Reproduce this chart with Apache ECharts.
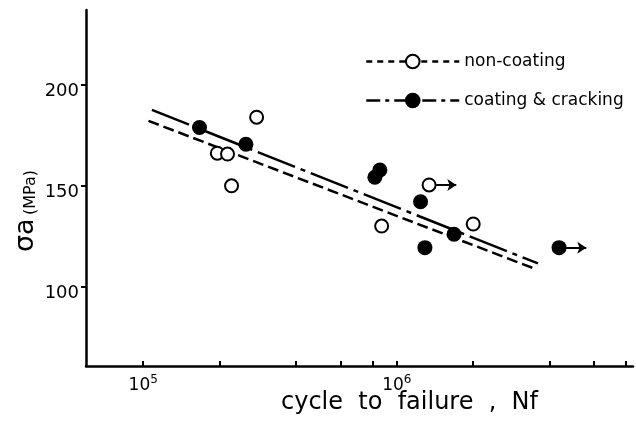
<!DOCTYPE html>
<html><head><meta charset="utf-8">
<script src="https://cdn.jsdelivr.net/npm/echarts@6/dist/echarts.min.js"></script>
<style>html,body{margin:0;padding:0;background:#fff}#c{width:636px;height:430px}</style>
</head><body><div id="c"></div>
<script>
// ---- data ----
const xTickValues = [1e5, 2e5, 4e5, 6e5, 8e5, 1e6, 2e6, 4e6, 6e6, 8e6];
const xLabelValues = [1e5, 1e6];
const yLabelValues = [100, 150, 200];

const nonCoatN = [1.96e5, 2.15e5, 2.23e5, 2.80e5, 8.71e5, 1.34e6, 2.0e6];
const nonCoatS = [166.2, 165.8, 150.1, 184.0, 130.2, 150.5, 131.2];
const nonCoatRunout = [false, false, false, false, false, true, false];

const coatN = [1.667e5, 2.54e5, 8.19e5, 8.57e5, 1.24e6, 1.29e6, 1.68e6, 4.36e6];
const coatS = [178.9, 170.6, 154.3, 157.9, 142.2, 119.5, 126.1, 119.5];
const coatRunout = [false, false, false, false, false, false, false, true];

const nonCoatFitN = [1.049e5, 3.53e6];
const nonCoatFitS = [182.2, 108.9];
const coatFitN = [1.082e5, 3.60e6];
const coatFitS = [187.6, 111.7];

// ---- chart ----
const FONT = 'DejaVu Sans';
const BLACK = '#000';
const pairs = (a, b) => a.map((v, i) => [v, b[i]]);
const arrows = (n, s, flags) => {
  const out = [];
  flags.forEach((f, i) => {
    if (f) out.push([{ coord: [n[i] * 1.065, s[i]] }, { coord: [n[i] * 1.28, s[i]] }]);
  });
  return out;
};

const chart = echarts.init(document.getElementById('c'), null, { renderer: 'canvas' });
chart.setOption({
  animation: false,
  backgroundColor: '#fff',
  grid: { left: 86, right: 3, top: 10, bottom: 64 },
  legend: {
    orient: 'vertical', left: 360, top: 48,
    itemWidth: 93, itemHeight: 17, itemGap: 22,
    textStyle: { fontFamily: FONT, fontSize: 17, color: BLACK },
    data: [
      { name: 'non-coating', lineStyle: { type: [6, 5], width: 2.5 } },
      { name: 'coating & cracking', lineStyle: { type: [14, 5, 4, 5], width: 2.5 } }
    ]
  },
  xAxis: {
    type: 'log', logBase: 10, min: 5.95e4, max: 8.53e6,
    axisLine: { show: true, onZero: false, lineStyle: { color: BLACK, width: 2.5 } },
    axisTick: { show: true, inside: true, length: 5, customValues: xTickValues, lineStyle: { color: BLACK, width: 2 } },
    axisLabel: {
      customValues: xLabelValues, margin: 8,
      formatter: v => '{b|10}{s|' + Math.round(Math.log10(v)) + '}',
      rich: {
        b: { fontFamily: FONT, fontSize: 17, color: BLACK, verticalAlign: 'bottom' },
        s: { fontFamily: FONT, fontSize: 12, color: BLACK, verticalAlign: 'bottom', padding: [0, 0, 8, 0] }
      }
    },
    splitLine: { show: false },
    minorTick: { show: false },
    name: 'cycle  to  failure  ,  Nf',
    nameLocation: 'middle', nameGap: 25, nameMoveOverlap: false,
    nameTextStyle: { fontFamily: FONT, fontSize: 24, color: BLACK, padding: [0, 0, 0, 100] }
  },
  yAxis: {
    type: 'value', min: 61, max: 237,
    axisLine: { show: true, onZero: false, lineStyle: { color: BLACK, width: 2.5 } },
    axisTick: { show: true, length: 5, customValues: yLabelValues, lineStyle: { color: BLACK, width: 2 } },
    axisLabel: {
      customValues: yLabelValues, margin: 7,
      formatter: v => '{a|' + v + '}',
      rich: { a: { fontFamily: FONT, fontSize: 18, color: BLACK, padding: [12, 0, 0, 0] } }
    },
    splitLine: { show: false },
    name: '{s|σa} {u|(MPa)}',
    nameLocation: 'middle', nameRotate: 90, nameGap: 47, nameMoveOverlap: false,
    nameTextStyle: {
      padding: [0, 46, 0, 0],
      rich: {
        s: { fontFamily: FONT, fontSize: 27, color: BLACK, verticalAlign: 'bottom' },
        u: { fontFamily: FONT, fontSize: 16, color: BLACK, verticalAlign: 'bottom' }
      }
    }
  },
  series: [
    {
      name: 'non-coating', type: 'line', data: pairs(nonCoatFitN, nonCoatFitS),
      showSymbol: false, symbol: 'circle', symbolSize: 13,
      itemStyle: { color: '#fff', borderColor: BLACK, borderWidth: 2 },
      lineStyle: { color: BLACK, width: 2.5, type: [11, 5] }, z: 2
    },
    {
      name: 'coating & cracking', type: 'line', data: pairs(coatFitN, coatFitS),
      showSymbol: false, symbol: 'circle', symbolSize: 14,
      itemStyle: { color: BLACK, borderColor: BLACK, borderWidth: 2 },
      lineStyle: { color: BLACK, width: 2.5, type: [40, 6, 5, 6] }, z: 2
    },
    {
      name: 'non-coating', type: 'scatter', data: pairs(nonCoatN, nonCoatS),
      symbol: 'circle', symbolSize: 13,
      itemStyle: { color: '#fff', borderColor: BLACK, borderWidth: 2, opacity: 1 }, z: 3,
      markLine: {
        silent: true, symbol: ['none', 'arrow'], symbolSize: 9, label: { show: false },
        lineStyle: { color: BLACK, width: 2, type: 'solid' },
        data: arrows(nonCoatN, nonCoatS, nonCoatRunout)
      }
    },
    {
      name: 'coating & cracking', type: 'scatter', data: pairs(coatN, coatS),
      symbol: 'circle', symbolSize: 15,
      itemStyle: { color: BLACK, opacity: 1 }, z: 4,
      markLine: {
        silent: true, symbol: ['none', 'arrow'], symbolSize: 9, label: { show: false },
        lineStyle: { color: BLACK, width: 2, type: 'solid' },
        data: arrows(coatN, coatS, coatRunout)
      }
    }
  ]
});
</script>
</body></html>
